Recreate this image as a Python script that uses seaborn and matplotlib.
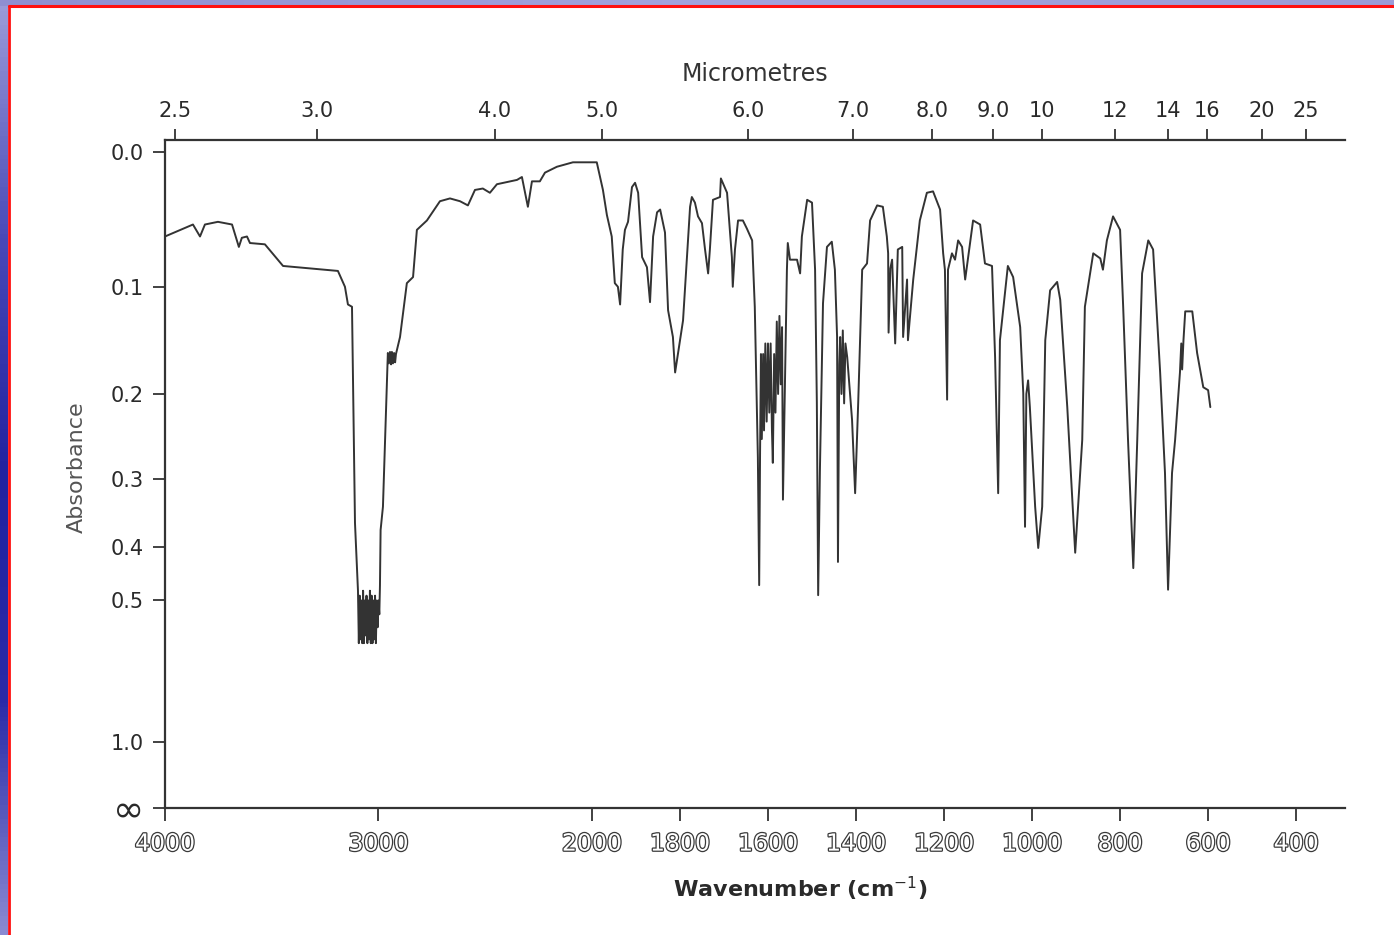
import numpy as np
import pandas as pd
import matplotlib
matplotlib.use("Agg")
import matplotlib.pyplot as plt
import matplotlib.patheffects as pe
from matplotlib.colors import LinearSegmentedColormap
import seaborn as sns

# IR spectrum (polystyrene film)
# 4000-2000 cm-1 part
wavenumber_hi = [4000, 3869, 3836, 3813, 3752, 3686, 3654, 3640, 3616, 3602,
                 3532, 3447, 3321, 3190, 3157, 3143, 3124, 3110, 3096, 3092,
                 3088, 3084, 3080, 3076, 3072, 3068, 3064, 3060, 3056, 3052,
                 3048, 3044, 3040, 3036, 3032, 3028, 3024, 3020, 3016, 3012,
                 3008, 3004, 3000, 2996, 2993, 2990, 2979, 2956, 2951, 2946,
                 2941, 2937, 2932, 2927, 2922, 2918, 2899, 2867, 2838, 2820,
                 2773, 2712, 2665, 2618, 2581, 2548, 2511, 2478, 2445, 2351,
                 2328, 2300, 2281, 2244, 2220, 2164, 2089, 2000]
absorbance_hi = [0.060, 0.051, 0.060, 0.051, 0.049, 0.051, 0.068, 0.061, 0.060, 0.065,
                 0.066, 0.083, 0.085, 0.087, 0.100, 0.115, 0.117, 0.362, 0.480, 0.600,
                 0.490, 0.590, 0.500, 0.600, 0.480, 0.600, 0.500, 0.580, 0.490, 0.600,
                 0.500, 0.590, 0.480, 0.600, 0.490, 0.600, 0.500, 0.590, 0.490, 0.600,
                 0.500, 0.560, 0.500, 0.530, 0.470, 0.373, 0.338, 0.159, 0.169, 0.158,
                 0.170, 0.158, 0.169, 0.159, 0.168, 0.160, 0.144, 0.097, 0.092, 0.055,
                 0.048, 0.034, 0.032, 0.034, 0.037, 0.026, 0.025, 0.028, 0.022, 0.019,
                 0.017, 0.038, 0.020, 0.020, 0.014, 0.010, 0.007, 0.007]

# 2000-600 cm-1 part
wavenumber_lo = [1989, 1975, 1966, 1955, 1948, 1941, 1936, 1930, 1925, 1918,
                 1909, 1902, 1895, 1886, 1875, 1868, 1861, 1852, 1845, 1834,
                 1827, 1816, 1811, 1800, 1793, 1784, 1777, 1773, 1766, 1759,
                 1750, 1743, 1736, 1732, 1725, 1709, 1707, 1693, 1682, 1680,
                 1675, 1668, 1657, 1648, 1636, 1630, 1623, 1620, 1618, 1616,
                 1614, 1611, 1609, 1606, 1603, 1600, 1597, 1594, 1591, 1589,
                 1586, 1583, 1580, 1577, 1574, 1571, 1568, 1566, 1557, 1555,
                 1550, 1534, 1527, 1523, 1511, 1500, 1493, 1489, 1486, 1482,
                 1475, 1466, 1455, 1448, 1443, 1441, 1438, 1436, 1433, 1430,
                 1427, 1424, 1420, 1409, 1402, 1395, 1386, 1375, 1368, 1352,
                 1339, 1330, 1327, 1326, 1322, 1318, 1311, 1305, 1295, 1293,
                 1284, 1282, 1270, 1255, 1239, 1225, 1209, 1202, 1198, 1193,
                 1191, 1182, 1175, 1168, 1159, 1152, 1134, 1118, 1107, 1091,
                 1084, 1077, 1073, 1055, 1043, 1027, 1020, 1016, 1013, 1009,
                 1005, 993, 986, 977, 970, 959, 943, 936, 920, 902,
                 886, 880, 861, 845, 839, 830, 816, 800, 793, 782,
                 770, 761, 750, 736, 725, 709, 698, 691, 682, 675,
                 664, 661, 659, 656, 652, 636, 625, 611, 600, 595]
absorbance_lo = [0.007, 0.026, 0.044, 0.060, 0.097, 0.100, 0.115, 0.070, 0.055, 0.049,
                 0.024, 0.021, 0.028, 0.076, 0.084, 0.113, 0.060, 0.042, 0.040, 0.057,
                 0.120, 0.144, 0.178, 0.147, 0.129, 0.076, 0.038, 0.031, 0.035, 0.045,
                 0.050, 0.070, 0.089, 0.070, 0.033, 0.031, 0.018, 0.028, 0.076, 0.100,
                 0.070, 0.048, 0.048, 0.054, 0.063, 0.117, 0.272, 0.469, 0.267, 0.160,
                 0.250, 0.160, 0.240, 0.150, 0.230, 0.150, 0.220, 0.150, 0.240, 0.279,
                 0.160, 0.220, 0.130, 0.200, 0.125, 0.190, 0.135, 0.328, 0.086, 0.065,
                 0.078, 0.078, 0.089, 0.060, 0.033, 0.035, 0.086, 0.209, 0.489, 0.288,
                 0.114, 0.068, 0.064, 0.086, 0.144, 0.426, 0.170, 0.144, 0.200, 0.138,
                 0.210, 0.150, 0.163, 0.228, 0.319, 0.209, 0.086, 0.081, 0.048, 0.037,
                 0.038, 0.060, 0.073, 0.140, 0.085, 0.078, 0.150, 0.070, 0.068, 0.144,
                 0.094, 0.147, 0.094, 0.048, 0.028, 0.027, 0.040, 0.073, 0.086, 0.206,
                 0.086, 0.073, 0.078, 0.063, 0.068, 0.094, 0.048, 0.051, 0.081, 0.083,
                 0.163, 0.319, 0.147, 0.083, 0.092, 0.135, 0.199, 0.368, 0.200, 0.186,
                 0.214, 0.338, 0.402, 0.338, 0.147, 0.103, 0.096, 0.111, 0.214, 0.410,
                 0.251, 0.117, 0.073, 0.077, 0.086, 0.063, 0.045, 0.055, 0.117, 0.251,
                 0.437, 0.251, 0.089, 0.063, 0.070, 0.178, 0.292, 0.478, 0.292, 0.251,
                 0.178, 0.150, 0.175, 0.147, 0.121, 0.121, 0.159, 0.193, 0.196, 0.214]

abs_ticks = [0.0, 0.1, 0.2, 0.3, 0.4, 0.5, 1.0]
abs_tick_labels = ["0.0", "0.1", "0.2", "0.3", "0.4", "0.5", "1.0"]
wn_ticks = [4000, 3000, 2000, 1800, 1600, 1400, 1200, 1000, 800, 600, 400]
um_ticks = [2.5, 3.0, 4.0, 5.0, 6.0, 7.0, 8.0, 9.0, 10, 12, 14, 16, 20, 25]
um_tick_labels = ["2.5", "3.0", "4.0", "5.0", "6.0", "7.0", "8.0", "9.0",
                  "10", "12", "14", "16", "20", "25"]

df = pd.DataFrame({
    "wavenumber": wavenumber_hi + wavenumber_lo,
    "absorbance": absorbance_hi + absorbance_lo,
})
# the chart's vertical axis is linear in transmittance
df["transmittance"] = 10 ** (-df["absorbance"])

# scale change at 2000 cm-1 (upper range compressed)
K = 0.485


def fwd(w):
    w = np.asarray(w, dtype=float)
    return np.where(w > 2000, 2000 + (w - 2000) * K, w)


def inv(u):
    u = np.asarray(u, dtype=float)
    return np.where(u > 2000, 2000 + (u - 2000) / K, u)


sns.set_style("white")
plt.rcParams["font.family"] = ["DejaVu Sans"]

W, H = 1394, 935
fig = plt.figure(figsize=(W / 100, H / 100), dpi=100)
fig.patch.set_facecolor("white")

# slide frame: bluish strips with a red border line
top_strip = fig.add_axes([0, 1 - 6 / H, 1, 6 / H])
top_strip.imshow(np.linspace(0, 1, 200)[None, :], aspect="auto",
                 cmap=LinearSegmentedColormap.from_list("t", ["#8f8fd2", "#a3a3de", "#9c9cd8"]))
top_strip.set_axis_off()
left_strip = fig.add_axes([0, 0, 8 / W, 1 - 6 / H])
left_strip.imshow(np.linspace(0, 1, 200)[:, None], aspect="auto",
                  cmap=LinearSegmentedColormap.from_list(
                      "l", ["#9a9ad8", "#4848b8", "#2222a0", "#2a2aa8", "#8a8ad2"]))
left_strip.set_axis_off()
fig.add_artist(plt.Line2D([8.5 / W, 8.5 / W], [0, 1 - 5.5 / H],
                          transform=fig.transFigure, color="#ff1010", lw=2))
fig.add_artist(plt.Line2D([8.5 / W, 1], [1 - 6 / H, 1 - 6 / H],
                          transform=fig.transFigure, color="#ff1010", lw=2.2))

ax = fig.add_axes([165 / W, 1 - 808 / H, (1345 - 165) / W, (808 - 140) / H])
sns.lineplot(data=df, x="wavenumber", y="transmittance", ax=ax,
             sort=False, estimator=None, color="#333333", linewidth=1.4)

ax.set_xscale("function", functions=(fwd, inv))
ax.set_xlim(4000, 289)
ax.set_ylim(0, 1.018)

ax.set_xticks(wn_ticks)
ax.set_xticklabels([str(t) for t in wn_ticks], fontsize=17, color="white",
                   path_effects=[pe.withStroke(linewidth=1.8, foreground="#3a3a3a")])
ax.set_yticks([10 ** (-a) for a in abs_ticks] + [0.0])
ax.set_yticklabels(abs_tick_labels + ["∞"], fontsize=15, color="#2a2a2a")
ax.get_yticklabels()[-1].set_fontsize(27)
ax.tick_params(axis="x", bottom=True, direction="out", length=9, width=1.3,
               color="#333", pad=8)
ax.tick_params(axis="y", left=True, direction="out", length=9, width=1.3,
               color="#333", pad=6)
for side in ["left", "bottom"]:
    ax.spines[side].set_color("#333")
    ax.spines[side].set_linewidth(1.6)
ax.spines["right"].set_visible(False)
ax.spines["top"].set_visible(False)

ax.set_xlabel("Wavenumber (cm$^{-1}$)", fontsize=16, fontweight="bold", color="#2a2a2a")
ax.xaxis.set_label_coords(0.538, -0.1)
ax.set_ylabel("Absorbance", fontsize=16, color="#555")
ax.yaxis.set_label_coords(-0.066, 0.51)

# micrometre scale on top (printed slightly offset in the scan)
top = ax.twiny()
top.set_xscale("function", functions=(fwd, inv))
top.set_xlim(inv(fwd(4000) + 22), inv(fwd(289) + 22))
top.set_xticks([1e4 / m for m in um_ticks])
top.set_xticklabels(um_tick_labels, fontsize=15, color="#2a2a2a")
top.tick_params(axis="x", top=True, direction="out", length=8, width=1.3,
                color="#333", pad=6)
for side in ["left", "right", "bottom"]:
    top.spines[side].set_visible(False)
top.spines["top"].set_color("#333")
top.spines["top"].set_linewidth(1.6)
top.set_xlabel("Micrometres", fontsize=17, color="#333")
top.xaxis.set_label_coords(0.50, 1.088)

fig.savefig("out.png", dpi=100, facecolor="white")
plt.close(fig)
